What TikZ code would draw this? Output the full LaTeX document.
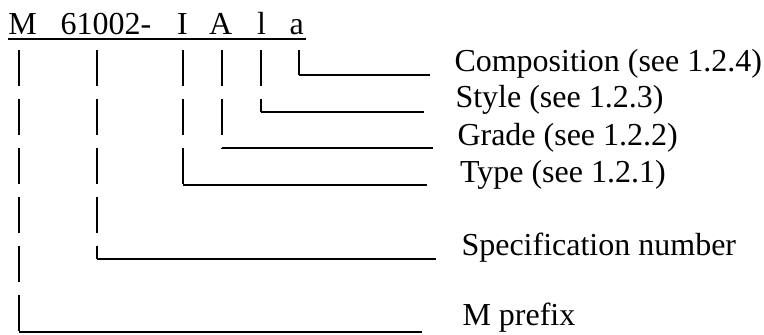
\documentclass[tikz,border=0pt]{standalone}
\usepackage{fontspec}
\setmainfont{Liberation Serif}
\usetikzlibrary{calc}

\tikzset{every picture/.style={line width=0.75pt}}
\tikzset{
  codetxt/.style={anchor=base west,inner sep=0pt,font=\fontsize{24}{28}\selectfont},
  bar/.style={line width=1pt,dash pattern=on 27 off 9.7},
  rule/.style={line width=1.1pt}
}

\begin{document}
\begin{tikzpicture}[x=0.75pt,y=0.75pt,yscale=-1,xscale=1]
\useasboundingbox (0,0) rectangle (764,335);

% Text Node
\draw (8,35) node [codetxt] (cM) {M};
% Text Node
\draw (60,35) node [codetxt] (cNum) {61002-};
% Text Node
\draw (176.5,35) node [codetxt] (cI) {I};
% Text Node
\draw (208.5,35) node [codetxt] (cA) {A};
% Text Node
\draw (256.5,35) node [codetxt] (cl) {l};
% Text Node
\draw (289,35) node [codetxt] (ca) {a};

% Text Node
\draw (454,72) node [codetxt] (lComp) {Composition (see 1.2.4)};
% Text Node
\draw (455,108) node [codetxt] (lStyle) {Style (see 1.2.3)};
% Text Node
\draw (457,145) node [codetxt] (lGrade) {Grade (see 1.2.2)};
% Text Node
\draw (459.5,182) node [codetxt] (lType) {Type (see 1.2.1)};
% Text Node
\draw (461,255) node [codetxt] (lSpec) {Specification number};
% Text Node
\draw (462,325) node [codetxt] (lPrefix) {M prefix};

%Underline
\draw [rule] ($(cM.base west)+(0,4)$) -- ($(ca.base east)+(2,4)$);

%bar tops and line ends
\coordinate (aTop) at (299,50);   \coordinate (aEnd) at (430,75);
\coordinate (lTop) at (261,50);   \coordinate (lEnd) at (424,112);
\coordinate (ATop) at (222,50);   \coordinate (AEnd) at (433,148);
\coordinate (ITop) at (183,50);   \coordinate (IEnd) at (427,185);
\coordinate (nTop) at (97,50);    \coordinate (nEnd) at (436,259);
\coordinate (MTop) at (19,50);    \coordinate (MEnd) at (422,332);

%Straight Lines
\foreach \t/\e in {aTop/aEnd,lTop/lEnd,ATop/AEnd,ITop/IEnd,nTop/nEnd,MTop/MEnd}{
  \draw [bar] (\t) -- (\t |- \e) ;
  \draw [rule] (\t |- \e) -- (\e) ;
}

\end{tikzpicture}
\end{document}
